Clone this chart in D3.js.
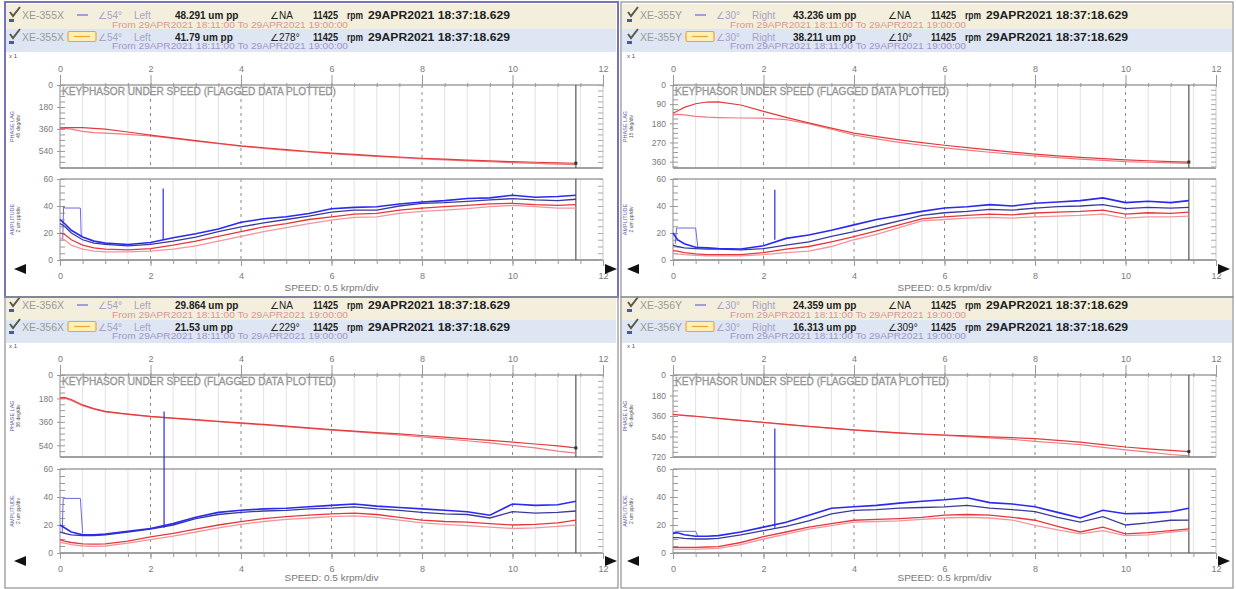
<!DOCTYPE html>
<html><head><meta charset="utf-8">
<script src="https://cdn.jsdelivr.net/npm/d3@7"></script>
<style>body{margin:0;background:#fff}svg{display:block;font-family:"Liberation Sans",Arial,sans-serif}</style>
</head><body><svg id="c" width="1236" height="589"></svg>
<script>
// ---------- DATA ----------
const speeds = [0,0.1,0.25,0.5,0.75,1,1.5,2,2.5,3,3.5,4,4.5,5,5.5,6,6.5,7,7.5,8,8.5,9,9.5,10,10.5,11,11.4];
const xTicks = [0,2,4,6,8,10,12];
const ampTicks = [0,20,40,60];

// XE-355X
const phaseA_355X = [352,350,348,349,355,362,385,410,433,455,477,498,514,530,545,558,569,580,590,600,608,615,622,628,633,638,641];
const phaseB_355X = [355,356,362,380,390,395,405,418,438,460,481,502,519,535,549,562,574,585,595,605,614,622,629,636,642,648,652];
const ampBlue_355X = [30,27,22,17,14,12.5,11.5,13,16.5,19.5,23,28,30.5,32,34.5,38,39,39.5,41.5,43,44,45.5,46,48,46.5,47,48];
const ampNavy_355X = [27,25,20,15,12.5,11.5,10.5,11.5,14,17,21,24.5,27.5,30,32.5,35.5,37,37,40,42,42.5,43.5,44.5,45.5,44.5,44,45];
const ampRed_355X  = [20,19,15,11,9,8,7.5,8.5,11,14,17.5,21,24.5,27,30,32,34,34.5,37,38.5,39.5,40.5,41.5,42,41,40.5,41];
const ampPink_355X = [16,15,11,8,6.5,6,6,6.5,8,10.5,14,17.5,21,24,27,29.5,31.5,32,34.5,36,37,38,39.5,40.5,39.5,38.5,38.5];
const boxX_355X = [0.06,0.08,0.1,0.45,0.47];
const boxY_355X = [15,40,38.5,38.5,17];
const spike_355X = {speed:2.28, from:15, to:53};

// XE-355Y
const phaseA_355Y = [133,122,105,88,80,79,94,124,152,178,203,226,243,258,271,283,294,305,315,325,333,340,346,352,356,360,362];
const phaseB_355Y = [142,138,140,147,151,153,155,156,163,182,208,235,253,270,283,295,306,316,325,333,341,348,354,360,363,366,368];
const ampBlue_355Y = [20,15,12,9.5,9,8.5,8.2,10.5,16,18.5,22,26,30,33,36,38.5,39.5,41,40,42,43,44,46,42.5,43.5,42.5,44];
const ampNavy_355Y = [11,10,9,8.5,8,8,7.5,8.5,11,13.5,17.5,21,25,29,33,35,36,37.5,37,38.5,39.5,40,41,38,39,38.5,39];
const ampRed_355Y  = [7,6.5,5.5,4.5,4,4,4,5.5,8,10,13.5,17.3,21.5,26,30.5,32,33,34,33.5,34.8,35.5,36,37,34,35,34.5,35.5];
const ampPink_355Y = [5,4.5,4,3.5,3,3,3,4,5.5,6.5,10,15,19,24,29,30,31,31.5,31,32,32.5,33,34,31,32,32,32.5];
const boxX_355Y = [0.05,0.08,0.5,0.55];
const boxY_355Y = [12,23.7,23.7,9];
const spike_355Y = {speed:2.25, from:15, to:52};

// XE-356X
const phaseA_356X = [176,172,188,230,258,280,300,318,331,343,356,368,380,393,406,420,431,442,453,465,477,490,502,515,530,545,560];
const phaseB_356X = [180,178,195,235,262,283,303,320,333,346,359,372,384,397,410,423,435,448,461,476,490,505,522,540,560,585,600];
const ampBlue_356X = [20,18,15,13,13,13.5,15.5,17.5,21,25.5,29,30.5,31.5,32,33,34,35,33.5,32.5,31.5,30.5,29.5,27,35,34,34.5,37];
const ampNavy_356X = [15,14,13,12.5,12.5,13,15,17,20,24.5,27.5,29,30,30.5,31.5,32,33,31.5,30.5,29,28,27.5,25,29.5,28.5,29,30];
const ampRed_356X  = [9.3,8.5,7.5,6.5,6.3,6.5,8.5,11.5,14,17,20,22.4,24.5,26,27,28,28.5,27.5,25.5,23.5,22.5,22,21,20,20.5,21.5,23.5];
const ampPink_356X = [7.5,7,6,5,4.8,5,7,9.5,12,15,18,20.5,22.5,24,25,26,26.5,25.5,23.5,21.5,20.5,19.5,18.5,17.5,18,19,20];
const boxX_356X = [0.05,0.07,0.45,0.5];
const boxY_356X = [15,39,39,14];
const spike_356X = {speed:2.3, from:18, to:101};

// XE-356Y
const phaseA_356Y = [346,349,354,362,371,380,398,415,433,450,466,482,495,508,518,527,535,543,550,558,574,590,611,632,648,662,672];
const phaseB_356Y = [348,351,356,364,373,382,400,418,436,453,469,485,498,511,521,530,541,552,566,582,597,612,635,658,678,698,710];
const ampBlue_356Y = [14,14.5,13,12,12,12.4,15,18.5,22,27,32,33,34,35.6,37,38,39.5,36,35,33,29,25,30.5,28,28.5,29.5,32];
const ampNavy_356Y = [11,11,10.5,10,10,10.5,13,16,19,23,28,30.5,31,32,32.5,33,34,32,31,29.5,25.5,22,26,20,21.5,23.4,23.5];
const ampRed_356Y  = [4,4,4,4,4.3,4.6,7.5,11.7,15,18.5,21,23.4,24,24.6,25.5,27,27.5,27,25.5,23.4,19,15,18.5,13.7,14.5,16,17.3];
const ampPink_356Y = [2.8,2.8,2.8,2.8,3,3.3,6,10,13.5,17,19.5,22,22.5,23,24,25,25.5,25,23.5,19.8,16.5,13.7,16,12.4,13,14.9,16];
const boxX_356Y = [0.02,0.05,0.5,0.55];
const boxY_356Y = [14,15.5,15.5,12];
const spike_356Y = {speed:2.25, from:18, to:89};

// header texts
const probeIds   = ["XE-355X","XE-355Y","XE-356X","XE-356Y"];
const probeAngle = ["∠54°","∠30°","∠54°","∠30°"];
const probeSide  = ["Left","Right","Left","Right"];
const ampRow1    = ["48.291 um pp","43.236 um pp","29.864 um pp","24.359 um pp"];
const phaseRow1  = ["∠NA","∠NA","∠NA","∠NA"];
const ampRow2    = ["41.79 um pp","38.211 um pp","21.53 um pp","16.313 um pp"];
const phaseRow2  = ["∠278°","∠10°","∠229°","∠309°"];
const rpmValue   = "11425";
const stamp      = "29APR2021 18:37:18.629";
const rangeText  = "From 29APR2021 18:11:00 To 29APR2021 19:00:00";
const phaseTickSets = [[0,180,360,540],[0,90,180,270,360],[0,180,360,540],[0,180,360,540,720]];
const phaseMaxes    = [680,390,630,720];
const phaseUnits    = ["45 deg/div","15 deg/div","36 deg/div","45 deg/div"];

const panels = [
 {phA:phaseA_355X, phB:phaseB_355X, blue:ampBlue_355X, navy:ampNavy_355X, red:ampRed_355X, pink:ampPink_355X, bx:boxX_355X, by:boxY_355X, spike:spike_355X},
 {phA:phaseA_355Y, phB:phaseB_355Y, blue:ampBlue_355Y, navy:ampNavy_355Y, red:ampRed_355Y, pink:ampPink_355Y, bx:boxX_355Y, by:boxY_355Y, spike:spike_355Y},
 {phA:phaseA_356X, phB:phaseB_356X, blue:ampBlue_356X, navy:ampNavy_356X, red:ampRed_356X, pink:ampPink_356X, bx:boxX_356X, by:boxY_356X, spike:spike_356X},
 {phA:phaseA_356Y, phB:phaseB_356Y, blue:ampBlue_356Y, navy:ampNavy_356Y, red:ampRed_356Y, pink:ampPink_356Y, bx:boxX_356Y, by:boxY_356Y, spike:spike_356Y}
];

// ---------- DRAW ----------
const svg = d3.select("#c");
svg.append("rect").attr("width",1236).attr("height",589).attr("fill","#fff");

function styleAxis(g, color, size){
  g.select(".domain").remove();
  g.selectAll("line").attr("stroke", color);
  g.selectAll("text").attr("fill","#7a7a7a").attr("font-size", size).attr("font-family",'"Liberation Sans",Arial,sans-serif');
}

panels.forEach((p,i)=>{
  const col = i%2, row = Math.floor(i/2);
  const xo = col ? 613 : 0, ho = col ? 618 : 0;
  const g = svg.append("g");

  // header bands
  const bandY1 = row ? 298 : 4, bandY2 = row ? 320 : 29, bandY3 = row ? 343 : 52;
  g.append("rect").attr("x", col?622:6).attr("y", bandY1).attr("width",610).attr("height",bandY2-bandY1).attr("fill","#f3efdc");
  g.append("rect").attr("x", col?622:6).attr("y", bandY2).attr("width",610).attr("height",bandY3-bandY2).attr("fill","#dde6f2");

  const hy = row ? 290 : 0;
  // check icons
  [0,22].forEach(dy=>{
    g.append("path").attr("d",`M${10+ho},${12+hy+dy} l3,4 l7,-9`).attr("fill","none").attr("stroke","#5a5a48").attr("stroke-width",2);
    g.append("rect").attr("x",9+ho).attr("y",19+hy+dy).attr("width",5).attr("height",3).attr("fill","#4a5a9a");
  });
  const hdr = (x,y,t,opt={})=>{
    const e = g.append("text").attr("x",x+ho).attr("y",y+hy).text(t)
      .attr("font-size",opt.size||10).attr("fill",opt.fill||"#222").attr("font-weight",opt.bold?"bold":"normal");
    if(opt.len) e.attr("textLength",opt.len).attr("lengthAdjust","spacingAndGlyphs");
    return e;
  };
  [[18.5,ampRow1[i],phaseRow1[i],28,"#d8959f"],[40.5,ampRow2[i],phaseRow2[i],48.5,"#a393cf"]].forEach((r,k)=>{
    const [yy,amp,ph,fy,fc] = r;
    hdr(22,yy,probeIds[i],{fill:"#9a9a9a",len:42});
    if(k===0){
      g.append("line").attr("x1",77+ho).attr("x2",88+ho).attr("y1",yy-3.5+hy).attr("y2",yy-3.5+hy).attr("stroke","#6a6ad8").attr("stroke-width",1.2);
    } else {
      g.append("rect").attr("x",68+ho).attr("y",yy-9+hy).attr("width",28).attr("height",10).attr("rx",1.5).attr("fill","#fff1b5").attr("stroke","#f0a23a").attr("stroke-width",1.2);
      g.append("line").attr("x1",74+ho).attr("x2",90+ho).attr("y1",yy-4+hy).attr("y2",yy-4+hy).attr("stroke","#f0a23a").attr("stroke-width",1.2);
    }
    hdr(98,yy,probeAngle[i],{fill:"#a8a2c8"});
    hdr(134,yy,probeSide[i],{fill:"#a8a2c8"});
    hdr(175,yy,amp,{bold:true});
    hdr(270,yy,ph,{fill:"#222"});
    hdr(313,yy,rpmValue,{bold:true,len:25});
    hdr(347,yy,"rpm",{bold:true,len:16});
    hdr(368,yy,stamp,{bold:true,len:142});
    hdr(112,fy,rangeText,{size:9,fill:fc,len:236});
  });
  g.append("text").attr("x",9+ho).attr("y",58+hy).text("x 1").attr("font-size",6).attr("fill","#555");

  // scales
  const x = d3.scaleLinear().domain([0,12]).range([60+xo,603+xo]);
  const pTop = row?375:85, pBot = row?457:168;
  const aTop = row?469:179, aBot = row?553:260;
  const yP = d3.scaleLinear().domain([0,phaseMaxes[i]]).range([pTop,pBot]);
  const yA = d3.scaleLinear().domain([0,60]).range([aBot,aTop]);

  // grid
  [[pTop,pBot],[aTop,aBot]].forEach(([t,b])=>{
    d3.range(0.5,12,0.5).filter(v=>v%2!==0).forEach(v=>{
      g.append("line").attr("x1",x(v)).attr("x2",x(v)).attr("y1",t).attr("y2",b).attr("stroke","#e2e2e2").attr("stroke-width",1);
    });
    [2,4,6,8,10].forEach(v=>{
      g.append("line").attr("x1",x(v)).attr("x2",x(v)).attr("y1",t).attr("y2",b).attr("stroke","#8a8a8a").attr("stroke-width",1).attr("stroke-dasharray","3,4");
    });
    g.append("line").attr("x1",x(0)).attr("x2",x(12)).attr("y1",t).attr("y2",t).attr("stroke","#a0a0a0").attr("stroke-width",1.5);
    g.append("line").attr("x1",x(0)).attr("x2",x(12)).attr("y1",b).attr("y2",b).attr("stroke","#a0a0a0").attr("stroke-width",2);
    g.append("line").attr("x1",x(0)).attr("x2",x(0)).attr("y1",t).attr("y2",b).attr("stroke","#a0a0a0").attr("stroke-width",1.2);
    g.append("line").attr("x1",x(12)).attr("x2",x(12)).attr("y1",t).attr("y2",b).attr("stroke","#c8c8c8").attr("stroke-width",1);
    g.append("line").attr("x1",x(11.4)).attr("x2",x(11.4)).attr("y1",t).attr("y2",b).attr("stroke","#555").attr("stroke-width",1.2);
  });

  // top axis
  const ta = g.append("g").attr("transform",`translate(0,${pTop})`).call(d3.axisTop(x).tickValues(xTicks).tickSize(10).tickPadding(3).tickFormat(d3.format("d")));
  styleAxis(ta,"#999",9);
  const tm = g.append("g").attr("transform",`translate(0,${pTop+2})`).call(d3.axisTop(x).tickValues(d3.range(0,12.01,0.5)).tickSize(4).tickFormat(""));
  styleAxis(tm,"#999",9);
  // bottom axis
  const ba = g.append("g").attr("transform",`translate(0,${aBot})`).call(d3.axisBottom(x).tickValues(xTicks).tickSize(6).tickPadding(7).tickFormat(d3.format("d")));
  styleAxis(ba,"#999",9);
  const bm = g.append("g").attr("transform",`translate(0,${aBot})`).call(d3.axisBottom(x).tickValues(d3.range(0,12.01,0.5)).tickSize(4).tickFormat(""));
  styleAxis(bm,"#999",9);
  // y axes
  const pa = g.append("g").attr("transform",`translate(${x(0)},0)`).call(d3.axisLeft(yP).tickValues(phaseTickSets[i]).tickSize(3).tickPadding(4));
  styleAxis(pa,"#999",8.5);
  const pstep = phaseTickSets[i][1]/4;
  const pm = g.append("g").attr("transform",`translate(${x(0)},0)`).call(d3.axisLeft(yP).tickValues(d3.range(0,phaseMaxes[i]+1,pstep)).tickSize(-5).tickFormat(""));
  styleAxis(pm,"#999",8);
  const pr = g.append("g").attr("transform",`translate(${x(12)},0)`).call(d3.axisRight(yP).tickValues(d3.range(0,phaseMaxes[i]+1,pstep)).tickSize(-5).tickFormat(""));
  styleAxis(pr,"#aaa",8);
  const aa = g.append("g").attr("transform",`translate(${x(0)},0)`).call(d3.axisLeft(yA).tickValues(ampTicks).tickSize(3).tickPadding(4));
  styleAxis(aa,"#999",8.5);
  const am = g.append("g").attr("transform",`translate(${x(0)},0)`).call(d3.axisLeft(yA).tickValues(d3.range(0,61,5)).tickSize(-5).tickFormat(""));
  styleAxis(am,"#999",8);
  const ar = g.append("g").attr("transform",`translate(${x(12)},0)`).call(d3.axisRight(yA).tickValues(d3.range(0,61,5)).tickSize(-5).tickFormat(""));
  styleAxis(ar,"#aaa",8);

  // axis titles
  const pc = (pTop+pBot)/2, ac = (aTop+aBot)/2;
  [[pc,"PHASE LAG",phaseUnits[i]],[ac,"AMPLITUDE","2 um pp/div"]].forEach(([cy,t1,t2])=>{
    g.append("text").attr("transform",`translate(${14+xo},${cy}) rotate(-90)`).attr("text-anchor","middle").text(t1).attr("font-size",5.5).attr("fill","#5c5cb0");
    g.append("text").attr("transform",`translate(${20+xo},${cy}) rotate(-90)`).attr("text-anchor","middle").text(t2).attr("font-size",5).attr("fill","#555");
  });
  // keyphasor note
  g.append("text").attr("x",x(0)+2).attr("y",pTop+10).text("KEYPHASOR UNDER SPEED (FLAGGED DATA PLOTTED)")
    .attr("font-size",10).attr("fill","#b0b0b0").attr("stroke","#777").attr("stroke-width",0.3)
    .attr("textLength",274).attr("lengthAdjust","spacingAndGlyphs");
  // speed label
  g.append("text").attr("x",x(6)).attr("y",row?581:291).attr("text-anchor","middle").text("SPEED: 0.5 krpm/div")
    .attr("font-size",9).attr("fill","#777").attr("textLength",94).attr("lengthAdjust","spacingAndGlyphs");
  // arrows
  const ay = row?561:269;
  g.append("path").attr("d",`M${14+xo},${ay} L${26+xo},${ay-5} L${26+xo},${ay+5} Z`).attr("fill","#111");
  g.append("path").attr("d",`M${617+xo},${ay} L${605+xo},${ay-5} L${605+xo},${ay+5} Z`).attr("fill","#111");

  // data lines
  const pts = arr => speeds.map((s,k)=>[s,arr[k]]);
  const lp = d3.line().x(d=>x(d[0])).y(d=>yP(d[1]));
  const la = d3.line().x(d=>x(d[0])).y(d=>yA(d[1]));
  g.append("path").attr("d",lp(pts(p.phB))).attr("fill","none").attr("stroke","#f07a84").attr("stroke-width",1.2);
  g.append("path").attr("d",lp(pts(p.phA))).attr("fill","none").attr("stroke","#e23b3b").attr("stroke-width",1.2);
  g.append("rect").attr("x",x(11.4)-1.5).attr("y",yP(p.phA[p.phA.length-1])-1.5).attr("width",3).attr("height",3).attr("fill","#333");

  g.append("path").attr("d",la(p.bx.map((v,k)=>[v,p.by[k]]))).attr("fill","none").attr("stroke","#6a6ae0").attr("stroke-width",1);
  g.append("path").attr("d",la(pts(p.pink))).attr("fill","none").attr("stroke","#f4959c").attr("stroke-width",1.3);
  g.append("path").attr("d",la(pts(p.red))).attr("fill","none").attr("stroke","#e5383e").attr("stroke-width",1.3);
  g.append("path").attr("d",la(pts(p.navy))).attr("fill","none").attr("stroke","#3a3a9c").attr("stroke-width",1.3);
  g.append("path").attr("d",la(pts(p.blue))).attr("fill","none").attr("stroke","#2a2af0").attr("stroke-width",1.6);
  g.append("path").attr("d",la([[p.spike.speed,p.spike.from],[p.spike.speed,p.spike.to]])).attr("fill","none").attr("stroke","#2a2ae8").attr("stroke-width",1.2);

  // panel border
  g.append("rect").attr("x", col?621:5).attr("y", row?297:2).attr("width", col?612:613).attr("height", row?291:295)
    .attr("fill","none").attr("stroke", i===0?"#7674b6":"#8f8f8f").attr("stroke-width", i===0?2:1.2);
});
</script></body></html>
